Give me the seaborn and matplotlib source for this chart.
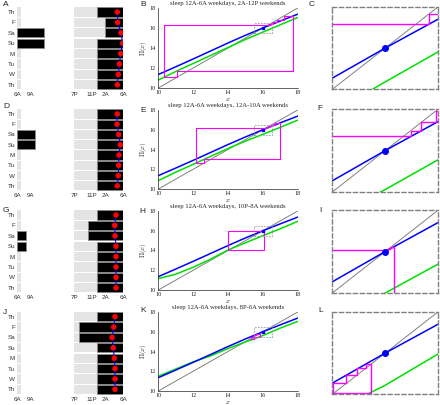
import matplotlib
matplotlib.use("Agg")
import matplotlib.pyplot as plt
import pandas as pd
import seaborn as sns

# --- schedule panels (A, D, G, J) ---
days = ["Th", "F", "Sa", "Su", "M", "Tu", "W", "Th"]
hour_ticks = [6, 9, 19, 23, 26, 30]
hour_labels = ["6A", "9A", "7P", "11P", "2A", "6A"]
night_spans = [(6, 7), (19, 30)]

sleep_A = [[(24, 30)], [(26, 30)], [(6, 12), (26, 30)], [(6, 12), (24, 30)],
           [(24, 30)], [(24, 30)], [(24, 30)], [(24, 30)]]
sleep_D = [[(24, 30)], [(24, 30)], [(6, 10), (24, 30)], [(6, 10), (24, 30)],
           [(24, 30)], [(24, 30)], [(24, 30)], [(24, 30)]]
sleep_G = [[(24, 30)], [(22, 30)], [(6, 8), (22, 30)], [(6, 8), (24, 30)],
           [(24, 30)], [(24, 30)], [(24, 30)], [(24, 30)]]
sleep_J = [[(24, 30)], [(20, 30)], [(20, 30)], [(24, 30)],
           [(24, 30)], [(24, 30)], [(24, 30)], [(24, 30)]]

phase_A = [28.71, 28.80, 29.55, 29.93, 29.48, 29.16, 28.93, 28.71]
phase_D = [28.71, 28.64, 29.02, 29.39, 29.09, 29.02, 28.93, 28.71]
phase_G = [28.41, 28.12, 28.19, 28.41, 28.41, 28.41, 28.41, 28.41]
phase_J = [28.19, 27.89, 27.51, 27.80, 28.03, 28.19, 28.19, 28.19]

# --- map panels (B, E, H, K) and zooms (C, F, I, L) ---
titles = ["sleep 12A-6A weekdays, 2A-12P weekends",
          "sleep 12A-6A weekdays, 12A-10A weekends",
          "sleep 12A-6A weekdays, 10P-8A weekends",
          "sleep 12A-6A weekdays, 8P-6A weekends"]

x_grid = [10, 11, 12, 13, 14, 15, 16, 17, 18]
pi_weekday = [11.35, 12.12, 12.90, 13.70, 14.50, 15.27, 16.00, 16.70, 17.38]
pi_weekend_B = [10.80, 11.65, 12.45, 13.25, 14.05, 14.85, 15.59, 16.32, 17.05]
pi_weekend_E = [10.85, 11.70, 12.50, 13.30, 14.10, 14.85, 15.53, 16.25, 16.97]
pi_weekend_H = [11.15, 11.60, 12.30, 13.12, 14.05, 14.78, 15.50, 16.20, 16.95]
pi_weekend_K = [11.50, 12.22, 12.95, 13.55, 14.30, 14.97, 15.61, 16.37, 17.05]

cob_B_x = [10.33, 10.33, 11.08, 11.08, 17.72, 17.72, 17.20, 17.20, 16.84, 16.84, 16.59, 16.59, 16.41, 16.41, 10.33]
cob_B_y = [16.29, 11.08, 11.08, 11.72, 11.72, 17.20, 17.20, 16.84, 16.84, 16.59, 16.59, 16.41, 16.41, 16.29, 16.29]
cob_E_x = [12.17, 12.17, 12.62, 12.62, 17.00, 17.00, 16.70, 16.70, 16.48, 16.48, 16.34, 16.34, 16.24, 16.24, 12.17]
cob_E_y = [16.17, 12.62, 12.62, 13.00, 13.00, 16.70, 16.70, 16.48, 16.48, 16.34, 16.34, 16.24, 16.24, 16.17, 16.17]
cob_H_x = [14.02, 14.02, 14.06, 14.06, 16.08, 16.08, 16.055, 16.055, 16.04, 16.04, 16.03, 16.03, 14.02]
cob_H_y = [16.02, 14.06, 14.06, 14.08, 14.08, 16.055, 16.055, 16.04, 16.04, 16.03, 16.03, 16.02, 16.02]
cob_K_x = [15.865, 15.865, 15.512, 15.512, 15.31, 15.31, 15.51, 15.51, 15.633, 15.633, 15.735, 15.735, 15.815, 15.815, 15.865]
cob_K_y = [15.865, 15.512, 15.512, 15.31, 15.31, 15.51, 15.51, 15.633, 15.633, 15.735, 15.735, 15.815, 15.815, 15.863, 15.863]

fixed_pt = 16.0
zoom_lo, zoom_hi = 15.5, 16.5

sns.set_style("white")
plt.rcParams["font.family"] = ["Liberation Sans", "DejaVu Sans"]
plt.rcParams["mathtext.fontset"] = "cm"

W, H = 440, 405
fig = plt.figure(figsize=(W / 100, H / 100), dpi=100)


def px_axes(l, t, r, b):
    return fig.add_axes([l / W, 1 - b / H, (r - l) / W, (b - t) / H])


def draw_schedule(ax, sleep, phase):
    for i in range(len(days)):
        for a, b in night_spans:
            ax.barh(i, b - a, left=a, height=0.9, color="#e4e4e4", lw=0)
        for a, b in sleep[i]:
            ax.barh(i, b - a, left=a, height=0.9, color="black",
                    edgecolor="#8a8a8a", lw=0.6)
    df = pd.DataFrame({"t": phase, "row": range(len(days))})
    sns.lineplot(data=df, x="t", y="row", sort=False, estimator=None,
                 color="blue", lw=0.8, ax=ax)
    sns.scatterplot(data=df, x="t", y="row", color="red", s=16,
                    edgecolor="none", ax=ax, zorder=5)
    ax.set_xlim(6, 30)
    ax.set_ylim(7.5, -0.5)
    ax.set_xticks(hour_ticks)
    ax.set_xticklabels(hour_labels, fontsize=4.5, color="#333333")
    ax.set_yticks(range(len(days)))
    ax.set_yticklabels(days, fontsize=4.5, color="#333333")
    ax.tick_params(length=0, pad=1.5)
    ax.set_xlabel("")
    ax.set_ylabel("")
    for s in ax.spines.values():
        s.set_visible(False)


def draw_curves(ax, green):
    df = pd.DataFrame({"x": x_grid, "w": pi_weekday, "g": green})
    sns.lineplot(data=df, x="x", y="x", color="#808080", lw=0.7, ax=ax)
    sns.lineplot(data=df, x="x", y="g", color="#00e000", lw=1.1, ax=ax)
    sns.lineplot(data=df, x="x", y="w", color="#0000ff", lw=1.1, ax=ax)


def draw_map(ax, green, cx, cy, title):
    draw_curves(ax, green)
    ax.plot(cx, cy, color="#ff00ff", lw=0.8)
    box_x = [zoom_lo, zoom_hi, zoom_hi, zoom_lo, zoom_lo]
    box_y = [zoom_lo, zoom_lo, zoom_hi, zoom_hi, zoom_lo]
    ax.plot(box_x, box_y, color="#999999", lw=0.6, ls=(0, (2, 1.5)))
    ax.plot([fixed_pt], [fixed_pt], "s", color="blue", ms=1.8)
    ax.set_xlim(10, 18)
    ax.set_ylim(10, 18)
    ax.set_xticks([10, 12, 14, 16, 18])
    ax.set_yticks([10, 12, 14, 16, 18])
    for lab in ax.get_xticklabels() + ax.get_yticklabels():
        lab.set_fontfamily("Liberation Serif")
        lab.set_fontsize(4.5)
    ax.tick_params(length=1.5, width=0.4, pad=1.5, direction="in")
    ax.set_title(title, fontsize=4.8, family="Liberation Serif", pad=2)
    ax.set_xlabel("$x$", fontsize=5, labelpad=0.5)
    ax.set_ylabel(r"$\Pi(x)$", fontsize=5, labelpad=1)
    sns.despine(ax=ax)
    for s in ("left", "bottom"):
        ax.spines[s].set_linewidth(0.5)
        ax.spines[s].set_color("#262626")


def draw_zoom(ax, green, cx, cy):
    draw_curves(ax, green)
    ax.plot(cx, cy, color="#ff00ff", lw=1.0)
    ax.plot([fixed_pt], [fixed_pt], "o", color="blue", ms=4)
    ax.set_xlim(zoom_lo, zoom_hi)
    ax.set_ylim(zoom_lo, zoom_hi)
    ax.set_xticks([])
    ax.set_yticks([])
    ax.set_xlabel("")
    ax.set_ylabel("")
    for s in ax.spines.values():
        s.set_linestyle((0, (3, 2)))
        s.set_color("#808080")
        s.set_linewidth(1.0)


sched_rows = [(6.8, 90), (108.8, 191), (209.8, 293), (311.5, 394.5)]
map_rows = [(8, 88), (110, 189), (211, 290), (312, 391)]
zoom_rows = [(6.7, 89.3), (109, 192), (210, 293), (311.7, 394.3)]

sleeps = [sleep_A, sleep_D, sleep_G, sleep_J]
phases = [phase_A, phase_D, phase_G, phase_J]
greens = [pi_weekend_B, pi_weekend_E, pi_weekend_H, pi_weekend_K]
cobx = [cob_B_x, cob_E_x, cob_H_x, cob_K_x]
coby = [cob_B_y, cob_E_y, cob_H_y, cob_K_y]

letters = [("A", 3, 5, "B", 140, 5, "C", 309, 5),
           ("D", 3, 107, "E", 140, 110, "F", 317, 108),
           ("G", 3, 210, "H", 139, 211, "I", 319, 210),
           ("J", 3, 312, "K", 140, 310, "L", 318, 311)]

for k in range(4):
    ax = px_axes(17, sched_rows[k][0], 123, sched_rows[k][1])
    draw_schedule(ax, sleeps[k], phases[k])
    ax = px_axes(158.3, map_rows[k][0], 297.7, map_rows[k][1])
    draw_map(ax, greens[k], cobx[k], coby[k], titles[k])
    ax = px_axes(332.3, zoom_rows[k][0], 438.3, zoom_rows[k][1])
    draw_zoom(ax, greens[k], cobx[k], coby[k])
    l = letters[k]
    for j in range(3):
        fig.text(l[3 * j + 1] / W, 1 - l[3 * j + 2] / H, l[3 * j],
                 fontsize=6, ha="left", va="center")

fig.savefig("out.png", dpi=100)
